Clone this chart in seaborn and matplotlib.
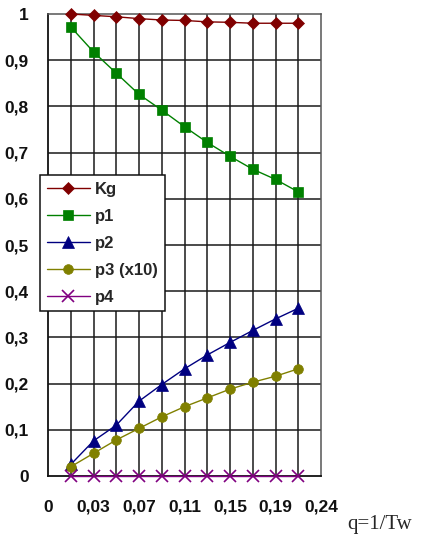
import numpy as np
import pandas as pd
import matplotlib
matplotlib.use('Agg')
import matplotlib.pyplot as plt
import seaborn as sns

# values
q = [0.02, 0.04, 0.06, 0.08, 0.10, 0.12, 0.14, 0.16, 0.18, 0.20, 0.22]
kg = [1.0, 0.997, 0.994, 0.99, 0.987, 0.986, 0.983, 0.982, 0.98, 0.98, 0.98]
p1 = [0.972, 0.918, 0.872, 0.826, 0.792, 0.756, 0.722, 0.692, 0.664, 0.642, 0.615]
p2 = [0.025, 0.076, 0.11, 0.162, 0.198, 0.232, 0.262, 0.289, 0.315, 0.34, 0.363]
p3 = [0.02, 0.049, 0.078, 0.103, 0.128, 0.15, 0.169, 0.188, 0.203, 0.216, 0.232]
p4 = [0.0, 0.0, 0.0, 0.0, 0.0, 0.0, 0.0, 0.0, 0.0, 0.0, 0.0]

series_names = ['Kg', 'p1', 'p2', 'p3 (x10)', 'p4']
series_vals = [kg, p1, p2, p3, p4]
colors = ['#800000', '#008000', '#000080', '#808000', '#800080']
markers = ['D', 's', '^', 'o', 'x']
msizes = [6.5, 7.5, 8, 7, 8]

xtick_pos = [0, 0.04, 0.08, 0.12, 0.16, 0.20, 0.24]
xtick_labels = ['0', '0,03', '0,07', '0,11', '0,15', '0,19', '0,24']
ytick_pos = [0, 0.1, 0.2, 0.3, 0.4, 0.5, 0.6, 0.7, 0.8, 0.9, 1.0]
ytick_labels = ['0', '0,1', '0,2', '0,3', '0,4', '0,5', '0,6', '0,7', '0,8', '0,9', '1']

sns.set_style('white')
plt.rcParams['font.family'] = ['Liberation Sans', 'DejaVu Sans']

fig = plt.figure(figsize=(4.21, 5.38), dpi=100)
ax = fig.add_axes([48 / 421, 62 / 538, 273 / 421, 462 / 538])

# grid lines every 0.02 on x, 0.1 on y
for gx in np.arange(0.02, 0.24, 0.02):
    ax.axvline(gx, color='#1a1a1a', lw=1.1, zorder=1)
for gy in np.arange(0.1, 1.0, 0.1):
    ax.axhline(gy, color='#1a1a1a', lw=1.1, zorder=1)

for name, vals, c, m, s in zip(series_names, series_vals, colors, markers, msizes):
    df = pd.DataFrame({'q': q, 'v': vals})
    sns.lineplot(data=df, x='q', y='v', ax=ax, color=c, marker=m, markersize=s,
                 markeredgecolor=c, markerfacecolor=c, markeredgewidth=1.2 if m == 'x' else 0.5,
                 lw=1.0, label=name, zorder=3, clip_on=False)

ax.set_xlim(0, 0.24)
ax.set_ylim(0, 1)
ax.set_xticks(xtick_pos)
ax.set_xticklabels(xtick_labels, fontsize=12.5, fontweight='bold')
ax.set_yticks(ytick_pos)
ax.set_yticklabels(ytick_labels, fontsize=12.5, fontweight='bold')
ax.set_xticks(np.arange(0, 0.2401, 0.01), minor=True)
ax.set_yticks(np.arange(0.05, 1.0, 0.1), minor=True)
ax.tick_params(axis='x', which='major', length=5, width=1, pad=12, colors='#111111')
ax.tick_params(axis='x', which='minor', length=3, width=1, color='#111111')
ax.tick_params(axis='y', which='major', length=6, width=1, pad=8, colors='#111111')
ax.tick_params(axis='y', which='minor', length=3, width=1, color='#111111')
ax.set_xlabel('')
ax.set_ylabel('')

for side in ['left', 'bottom']:
    ax.spines[side].set_color('#111111')
    ax.spines[side].set_linewidth(1.3)
for side in ['top', 'right']:
    ax.spines[side].set_color('#555555')
    ax.spines[side].set_linewidth(1.1)

fig.text(347 / 421, 1 - 525 / 538, 'q=1/Tw', family='Liberation Serif', fontsize=15,
         ha='left', va='center')

leg = ax.legend(loc='upper left', bbox_to_anchor=(40 / 421, 1 - 175 / 538),
                bbox_transform=fig.transFigure, borderaxespad=0, fancybox=False,
                framealpha=1, edgecolor='#111111', handlelength=2.6, handletextpad=0.3,
                borderpad=0.4, labelspacing=0.72, prop={'size': 12, 'weight': 'bold'})
leg.get_frame().set_linewidth(1.1)
leg.set_zorder(10)

fig.savefig('out.png', dpi=100)
